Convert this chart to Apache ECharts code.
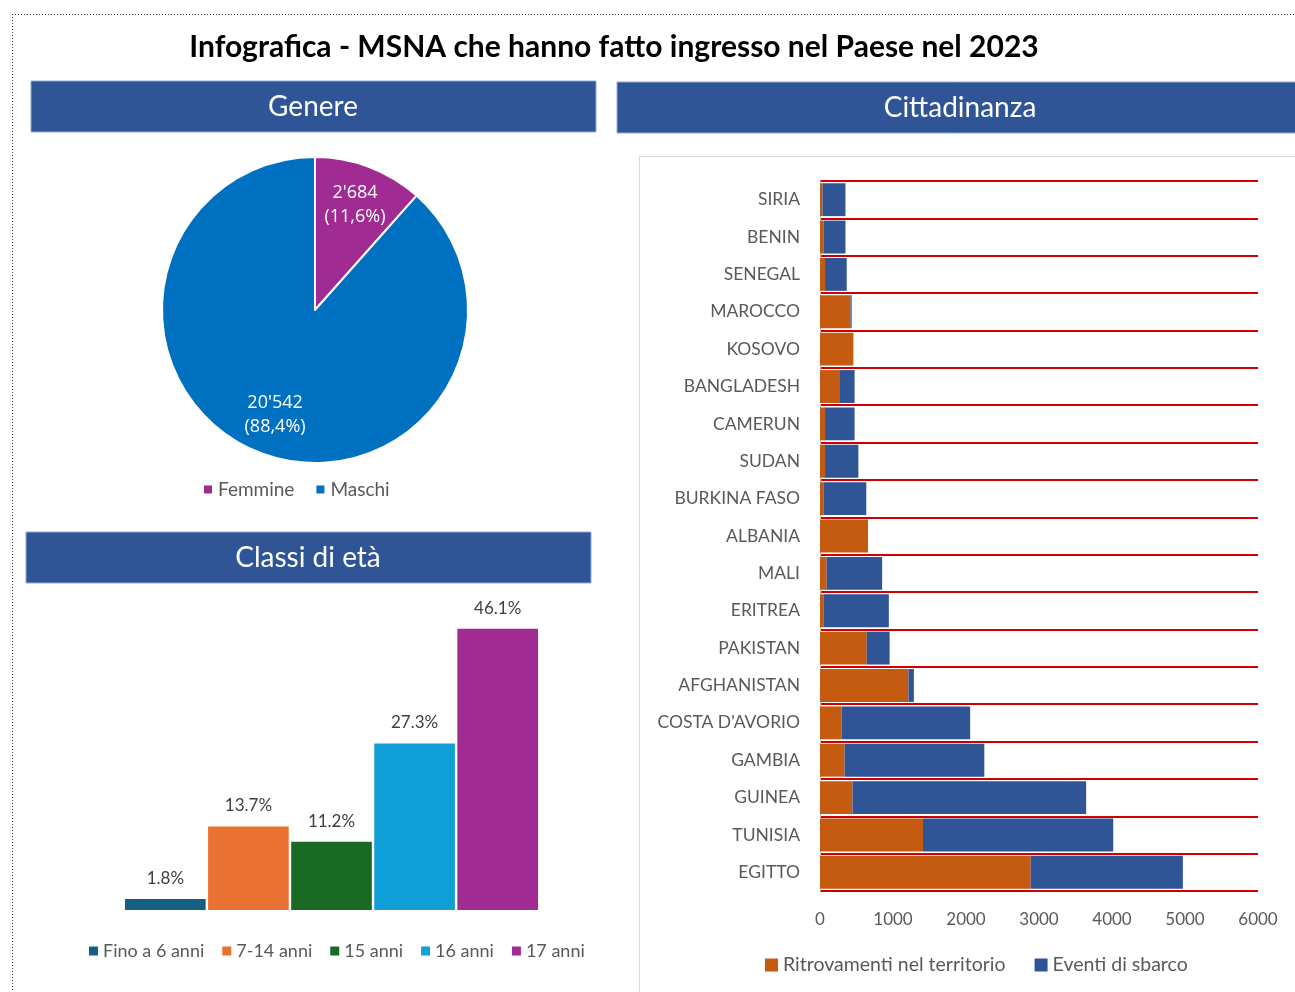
<!DOCTYPE html>
<html>
<head>
<meta charset="utf-8">
<script src="https://cdn.jsdelivr.net/npm/echarts@6/dist/echarts.min.js"></script>
<style>
  html, body { margin: 0; padding: 0; background: #fff; }
  #chart { width: 1295px; height: 992px; }
</style>
</head>
<body>
<div id="chart"></div>
<script>
// dati genere
const genderNames = ['Femmine', 'Maschi'];
const genderValues = [2684, 20542];

// classi di eta (percentuali)
const ageClasses = ['Fino a 6 anni', '7-14 anni', '15 anni', '16 anni', '17 anni'];
const agePercents = [1.8, 13.7, 11.2, 27.3, 46.1];

// cittadinanza
const countries = ['SIRIA', 'BENIN', 'SENEGAL', 'MAROCCO', 'KOSOVO', 'BANGLADESH', 'CAMERUN', 'SUDAN',
    'BURKINA FASO', 'ALBANIA', 'MALI', 'ERITREA', 'PAKISTAN', 'AFGHANISTAN', "COSTA D'AVORIO",
    'GAMBIA', 'GUINEA', 'TUNISIA', 'EGITTO'];
const foundInTerritory = [34, 46, 69, 417, 457, 263, 69, 69, 46, 646, 91, 46, 640, 1211, 297, 337, 446, 1411, 2886];
const landingEvents = [315, 303, 297, 17, 0, 211, 405, 457, 588, 11, 760, 897, 314, 75, 1760, 1914, 3200, 2606, 2085];

const FONT = 'Lato';
const GREY = '#595959';
const BAND = '#2F5597';

const ageColors = ['#156082', '#E97132', '#196B24', '#0F9ED5', '#A02B93'];

function thousands(n) {
    return String(n).replace(/\B(?=(\d{3})+(?!\d))/g, "'");
}

const myChart = echarts.init(document.getElementById('chart'));

// intestazioni blu dei riquadri
function band(x, y, w, h, text, tx, ty) {
    return [
        { type: 'rect', shape: { x: x, y: y, width: w, height: h },
          style: { fill: BAND, stroke: '#8FAADC', lineWidth: 1 } },
        { type: 'text', x: tx, y: ty,
          style: { text: text, fill: '#fff', font: '28px ' + FONT, textAlign: 'center', textVerticalAlign: 'middle' } }
    ];
}

const ageSeries = ageClasses.map((name, i) => ({
    name: name,
    type: 'bar',
    xAxisIndex: 0,
    yAxisIndex: 0,
    barGap: '3%',
    barCategoryGap: '0%',
    itemStyle: { color: ageColors[i] },
    label: {
        show: true,
        position: 'top',
        distance: 12,
        color: '#404040',
        fontFamily: FONT,
        fontSize: 17,
        formatter: p => p.value.toFixed(1) + '%'
    },
    data: [agePercents[i]]
}));

const genderTotal = genderValues.reduce((a, b) => a + b, 0);

let option = {
    backgroundColor: '#fff',
    textStyle: { fontFamily: FONT },
    animation: false,
    graphic: [
        // bordo tratteggiato
        { type: 'line', shape: { x1: 12, y1: 14.5, x2: 1295, y2: 14.5 },
          style: { stroke: '#333', lineWidth: 1, lineDash: [1, 2] } },
        { type: 'line', shape: { x1: 12.5, y1: 14, x2: 12.5, y2: 992 },
          style: { stroke: '#333', lineWidth: 1, lineDash: [1, 2] } },
        { type: 'text', x: 614, y: 47,
          style: { text: 'Infografica - MSNA che hanno fatto ingresso nel Paese nel 2023', fill: '#000',
                   font: 'bold 30px ' + FONT, textAlign: 'center', textVerticalAlign: 'middle' } },
        // cornice grafico cittadinanza
        { type: 'rect', shape: { x: 639.5, y: 156.5, width: 700, height: 900 },
          style: { fill: 'none', stroke: '#D9D9D9', lineWidth: 1 } },
        ...band(31, 81, 565, 51, 'Genere', 313, 107),
        ...band(617, 82, 700, 51, 'Cittadinanza', 960, 108),
        ...band(26, 532, 565, 51, 'Classi di età', 308, 558)
    ],
    legend: [
        {
            data: genderNames,
            left: 197, top: 475,
            icon: 'rect', itemWidth: 10, itemHeight: 10, itemGap: 20,
            textStyle: { color: GREY, fontSize: 19, fontFamily: FONT }
        },
        {
            data: ageClasses,
            left: 84, top: 937,
            icon: 'rect', itemWidth: 9, itemHeight: 9, itemGap: 18,
            textStyle: { color: GREY, fontSize: 18, fontFamily: FONT }
        },
        {
            data: ['Ritrovamenti nel territorio', 'Eventi di sbarco'],
            left: 760, top: 950,
            icon: 'rect', itemWidth: 13, itemHeight: 13, itemGap: 29,
            textStyle: { color: GREY, fontSize: 19.5, fontFamily: FONT }
        }
    ],
    grid: [
        { left: 125, top: 605, width: 413, height: 305 },
        { left: 820, top: 181, width: 438, height: 710 }
    ],
    xAxis: [
        { gridIndex: 0, type: 'category', data: [''], show: false },
        {
            gridIndex: 1, type: 'value', min: 0, max: 6000, interval: 1000,
            axisLine: { show: false }, axisTick: { show: false }, splitLine: { show: false },
            axisLabel: { color: GREY, fontSize: 17, fontFamily: FONT, margin: 20, formatter: v => String(v) }
        }
    ],
    yAxis: [
        { gridIndex: 0, type: 'value', min: 0, max: 50, show: false },
        {
            gridIndex: 1, type: 'category', data: countries, inverse: true,
            axisLine: { show: true, lineStyle: { color: '#BFBFBF' } },
            axisTick: { show: false },
            axisLabel: { color: GREY, fontSize: 17.5, fontFamily: FONT, margin: 20, padding: [4, 0, 0, 0] },
            splitLine: { show: true, interval: 0, lineStyle: { color: '#D00000', width: 2 } }
        }
    ],
    series: [
        {
            name: 'Genere',
            type: 'pie',
            center: [315, 310],
            radius: 153,
            startAngle: 90,
            clockwise: true,
            itemStyle: { borderColor: '#fff', borderWidth: 2 },
            label: { show: false },
            labelLine: { show: false },
            color: ['#A02B93', '#0070C0'],
            data: genderNames.map((n, i) => ({ name: n, value: genderValues[i] }))
        },
        {
            // solo etichette, anello trasparente per spostarle verso il bordo
            name: 'Genere etichette',
            type: 'pie',
            center: [315, 310],
            radius: [66, 153],
            startAngle: 90,
            silent: true,
            itemStyle: { color: 'rgba(0,0,0,0)', borderWidth: 0 },
            label: {
                show: true,
                position: 'inside',
                color: '#fff',
                fontSize: 18,
                lineHeight: 24,
                fontFamily: 'Open Sans',
                formatter: p => thousands(p.value) + '\n(' + (p.value / genderTotal * 100).toFixed(1).replace('.', ',') + '%)'
            },
            labelLine: { show: false },
            data: genderNames.map((n, i) => ({ name: n, value: genderValues[i] }))
        },
        ...ageSeries,
        {
            name: 'Ritrovamenti nel territorio',
            type: 'bar',
            stack: 'tot',
            xAxisIndex: 1,
            yAxisIndex: 1,
            barCategoryGap: '12%',
            itemStyle: { color: '#C55A11' },
            data: foundInTerritory
        },
        {
            name: 'Eventi di sbarco',
            type: 'bar',
            stack: 'tot',
            xAxisIndex: 1,
            yAxisIndex: 1,
            barCategoryGap: '12%',
            itemStyle: { color: '#2F5597' },
            data: landingEvents
        }
    ]
};

myChart.setOption(option);
</script>
</body>
</html>
